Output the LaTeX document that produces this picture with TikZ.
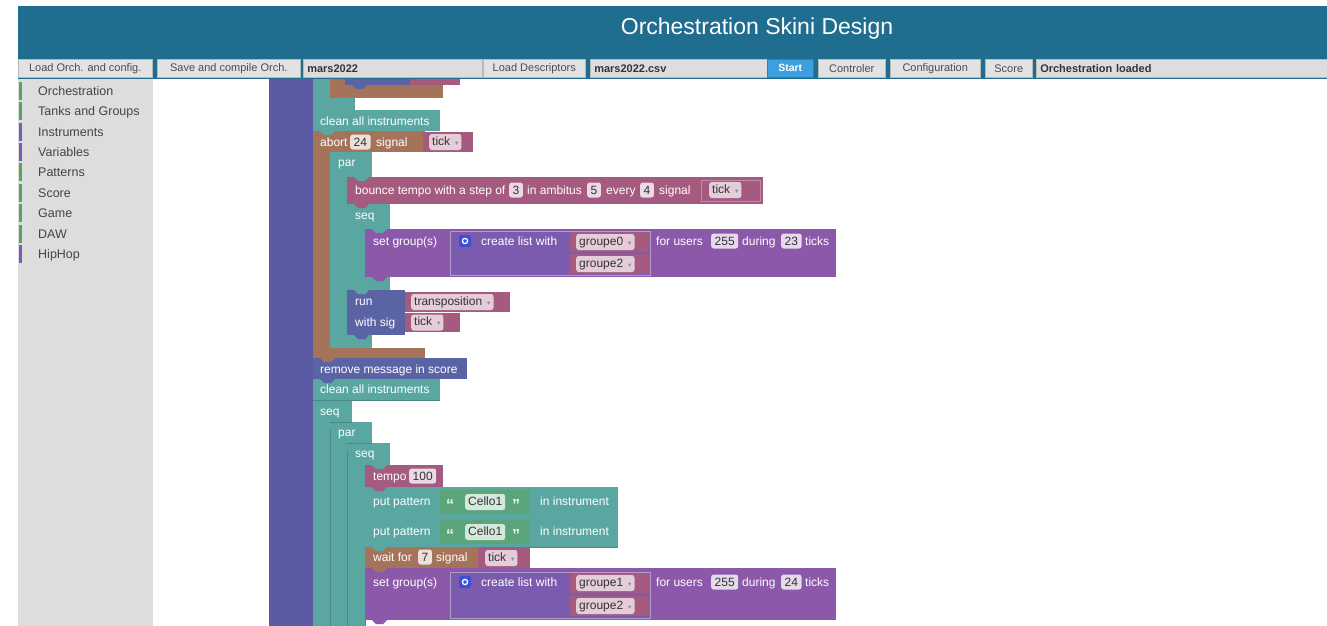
\documentclass[tikz,border=0pt]{standalone}
\usepackage{fontspec}
\setmainfont{Liberation Sans}
\newfontfamily\dvfont{DejaVu Sans}
\definecolor{hdr}{HTML}{1F6D8F}
\definecolor{btn}{HTML}{E2E2E2}
\definecolor{btnline}{HTML}{B8B8B8}
\definecolor{startc}{HTML}{3D9FE0}
\definecolor{side}{HTML}{DDDDDD}
\definecolor{sidetxt}{HTML}{444444}
\definecolor{catg}{HTML}{5BA55B}
\definecolor{catv}{HTML}{7B5BB5}
\definecolor{vio}{HTML}{5B5BA5}
\definecolor{tl}{HTML}{5AA6A0}
\definecolor{brn}{HTML}{A5735A}
\definecolor{pnk}{HTML}{A55A80}
\definecolor{setc}{HTML}{8C58AA}
\definecolor{lstc}{HTML}{7A5BAD}
\definecolor{runc}{HTML}{5A64A5}
\definecolor{txtc}{HTML}{5BA57A}
\definecolor{gear}{HTML}{3B4FD8}

\newcommand{\dd}{\hspace{5pt}{\dvfont\fontsize{6.5}{7}\selectfont\color{black!45}▾}}
% previous-statement tab of a block, hanging into the block below
\newcommand{\tab}[3]{\fill[#3] (#1,#2) -- (#1+4,#2+4) -- (#1+11,#2+4) -- (#1+15,#2) -- cycle;}

\begin{document}
\begin{tikzpicture}[x=1pt,y=-1pt,
  bt/.style={text=white, font=\fontsize{12}{14}\selectfont, inner sep=0pt, anchor=base west},
  numf/.style={fill=white, fill opacity=0.78, text opacity=1, text=black!80, rounded corners=2.5pt,
    inner xsep=3.5pt, inner ysep=0pt, minimum height=15pt, text height=9pt, text depth=1pt,
    font=\fontsize{12}{14}\selectfont, anchor=west},
  ddf/.style={fill=white, fill opacity=0.7, text opacity=1, text=black!80, rounded corners=2.5pt,
    inner xsep=3pt, inner ysep=0pt, minimum height=16pt, text height=9pt, text depth=2.5pt,
    font=\fontsize{12}{14}\selectfont, anchor=west},
  tbbtn/.style={fill=btn, draw=btnline, line width=0.5pt, inner sep=0pt, anchor=north west,
    text=black!70, font=\fontsize{11}{12}\selectfont},
  tbfield/.style={fill=side, draw=btnline, line width=0.5pt, inner sep=0pt, anchor=north west,
    text=black!80, font=\bfseries\fontsize{11}{12}\selectfont, align=left, text width=#1},
  stxt/.style={text=sidetxt, font=\fontsize{12.5}{14}\selectfont, inner sep=0pt, anchor=base west},
  quot/.style={bt, font=\bfseries\fontsize{16}{16}\selectfont, text=white!92!green},
  sep/.style={draw=tl!82!black, line width=0.6pt}
]
\useasboundingbox (0,0) rectangle (1327,626);
\fill[white] (0,0) rectangle (1327,626);

% ---------- header and toolbar ----------
\fill[hdr] (18,6) rectangle (1327,79);
\node[text=white, font=\fontsize{23}{26}\selectfont, inner sep=0pt] (title) at (757,29) {Orchestration Skini Design};

\node[tbbtn, minimum width=134pt, minimum height=18pt] (b1) at (18,59) {Load Orch. and config.};
\node[tbbtn, minimum width=143pt, minimum height=18pt] (b2) at (157,59) {Save and compile Orch.};
\node[tbfield=171pt, minimum height=18pt, inner xsep=4pt] (f1) at (303,59) {mars2022};
\node[tbbtn, minimum width=102pt, minimum height=18pt] (b3) at (483,59) {Load Descriptors};
\node[tbfield=169pt, minimum height=18pt, inner xsep=4pt] (f2) at (590,59) {mars2022.csv};
\node[tbbtn, fill=startc, draw=startc!80!black, text=white, font=\bfseries\fontsize{10.5}{12}\selectfont,
      minimum width=46pt, minimum height=18pt] (b4) at (767,59) {Start};
\node[tbbtn, minimum width=67pt, minimum height=18pt] (b5) at (818,59) {Controler};
\node[tbbtn, minimum width=90pt, minimum height=18pt] (b6) at (890,59) {Configuration};
\node[tbbtn, minimum width=47pt, minimum height=18pt] (b7) at (985,59) {Score};
\node[tbfield=283pt, minimum height=18pt, inner xsep=4pt] (f3) at (1036,59) {Orchestration loaded};

% ---------- category sidebar ----------
\fill[side] (18,79) rectangle (153,626);
\foreach \yy/\cc/\nm/\lbl in {91/catg/c1/Orchestration, 111/catg/c2/Tanks and Groups,
    132/catv/c3/Instruments, 152/catv/c4/Variables, 172/catg/c5/Patterns, 193/catg/c6/Score,
    213/catg/c7/Game, 234/catg/c8/DAW, 254/catv/c9/HipHop}{
  \fill[\cc] (19,\yy-9) rectangle (22,\yy+9);
  \node[stxt] (\nm) at (38,\yy+4.5) {\lbl};
}

% ---------- workspace: enclosing block ----------
\fill[vio] (269,79) rectangle (313,626);

% tail of the preceding statements
\fill[tl] (313,79) rectangle (330,110);
\fill[tl] (313,98) rectangle (355,110);
\fill[brn] (330,79) rectangle (345,98);
\fill[brn] (330,85) rectangle (443,98);
\fill[runc] (345,79) rectangle (410,85);
\fill[pnk] (410,79) rectangle (460,85);
\tab{352}{85}{runc}

% clean all instruments
\fill[tl] (313,110) rectangle (440,131);
\node[bt] (clean1) at (320,125) {clean all instruments};

% abort block (C-shaped)
\fill[brn] (313,131) rectangle (425,152);
\fill[brn] (313,152) rectangle (330,358);
\fill[brn] (313,348) rectangle (425,358);
\tab{320}{131}{tl}
\node[bt] (ab1) at (320,146) {abort};
\node[numf] (ab2) at (350,142) {24};
\node[bt] (ab3) at (376,146) {signal};
\fill[pnk] (423,132) rectangle (473,152);
\node[ddf] (ab4) at (429,142) {tick\dd};

% par block
\fill[tl] (330,152) rectangle (372,177);
\fill[tl] (330,152) rectangle (347,348);
\fill[tl] (330,335) rectangle (372,348);
\node[bt] (par1) at (338,166) {par};

% bounce tempo
\fill[pnk] (347,177) rectangle (763,204);
\tab{354}{177}{tl}
\node[bt] (bo1) at (355,194) {bounce tempo with a step of};
\node[numf] (bo2) at (509,190) {3};
\node[bt] (bo3) at (527,194) {in ambitus};
\node[numf] (bo4) at (587,190) {5};
\node[bt] (bo5) at (606,194) {every};
\node[numf] (bo6) at (640,190) {4};
\node[bt] (bo7) at (659,194) {signal};
\draw[pnk!70!white, line width=0.6pt] (701,180) rectangle (760,201);
\node[ddf] (bo8) at (709,190) {tick\dd};

% seq block with set group(s)
\fill[tl] (347,204) rectangle (390,229);
\fill[tl] (347,204) rectangle (365,290);
\fill[tl] (347,277) rectangle (390,290);
\tab{354}{204}{pnk}
\node[bt] (sq1) at (355,219) {seq};

\fill[setc] (365,229) rectangle (836,277);
\tab{372}{229}{tl}
\node[bt] (sg1) at (373,245) {set group(s)};
\fill[lstc] (450,231) rectangle (650,275);
\draw[lstc!60!white, line width=0.6pt] (450,231) rectangle (650,275);
\node[fill=gear, rounded corners=2pt, minimum size=12pt, inner sep=0pt] (sg2) at (465,241) {};
\draw[white, line width=1.3pt] (sg2.center) circle (2.6pt);
\node[bt] (sg3) at (481,245) {create list with};
\fill[pnk] (570,232) rectangle (650,252);
\node[ddf] (sg4) at (576,242) {groupe0\dd};
\fill[pnk] (570,254) rectangle (650,274);
\node[ddf] (sg5) at (576,264) {groupe2\dd};
\node[bt] (sg6) at (656,245) {for users};
\node[numf] (sg7) at (711,241) {255};
\node[bt] (sg8) at (742,245) {during};
\node[numf] (sg9) at (781,241) {23};
\node[bt] (sg10) at (805,245) {ticks};
\tab{372}{277}{setc}

% run with sig
\fill[runc] (347,290) rectangle (405,335);
\tab{354}{290}{tl}
\node[bt] (rn1) at (355,305) {run};
\node[bt] (rn2) at (355,326) {with sig};
\fill[pnk] (405,292) rectangle (510,312);
\node[ddf] (rn3) at (411,302) {transposition\dd};
\fill[pnk] (405,313) rectangle (460,332);
\node[ddf] (rn4) at (411,322.5) {tick\dd};
\tab{354}{335}{runc}

% remove message / clean
\fill[runc] (313,358) rectangle (467,379);
\tab{320}{358}{brn}
\node[bt] (rm1) at (320,373) {remove message in score};
\fill[tl] (313,379) rectangle (440,400);
\tab{320}{379}{runc}
\node[bt] (clean2) at (320,393) {clean all instruments};

% nested seq / par / seq
\fill[tl] (313,400) rectangle (352,422);
\fill[tl] (313,400) rectangle (330,626);
\node[bt] (sq2) at (320,415) {seq};
\fill[tl] (330,422) rectangle (372,443);
\fill[tl] (330,422) rectangle (347,626);
\node[bt] (par2) at (338,436) {par};
\fill[tl] (347,443) rectangle (390,465);
\fill[tl] (347,443) rectangle (365,626);
\node[bt] (sq3) at (355,457) {seq};
\draw[sep] (330,430) -- (330,626);
\draw[sep] (347,451) -- (347,626);
\draw[sep] (365,473) -- (365,626);
\draw[sep] (313,400) -- (440,400);
\draw[sep] (330,422) -- (352,422);
\draw[sep] (347,443) -- (372,443);

% tempo
\fill[pnk] (365,465) rectangle (443,487);
\tab{372}{465}{tl}
\node[bt] (tp1) at (373,480) {tempo};
\node[numf] (tp2) at (409,476) {100};

% put pattern x2
\foreach \yt/\nm in {487/pp, 517/pq}{
  \fill[tl] (365,\yt) rectangle (618,\yt+30);
  \draw[tl!82!black, line width=0.5pt] (365,\yt+30) -- (618,\yt+30);
  \node[bt] (\nm1) at (373,\yt+18) {put pattern};
  \fill[txtc] (440,\yt+3) rectangle (530,\yt+27);
  \node[quot] (\nm2) at (446,\yt+23) {“};
  \node[ddf, fill opacity=0.75] (\nm3) at (465,\yt+15) {Cello1};
  \node[quot] (\nm4) at (512,\yt+23) {”};
  \node[bt] (\nm5) at (540,\yt+18) {in instrument};
}
\tab{372}{487}{pnk}

% wait for
\fill[brn] (365,547) rectangle (478,568);
\tab{372}{547}{tl}
\node[bt] (wt1) at (373,561) {wait for};
\node[numf] (wt2) at (418,557) {7};
\node[bt] (wt3) at (436,561) {signal};
\fill[pnk] (478,548) rectangle (530,568);
\node[ddf] (wt4) at (485,558) {tick\dd};

% set group(s), second
\fill[setc] (365,568) rectangle (836,620);
\tab{372}{568}{brn}
\node[bt] (sh1) at (373,586) {set group(s)};
\fill[lstc] (450,572) rectangle (650,618);
\draw[lstc!60!white, line width=0.6pt] (450,572) rectangle (650,618);
\node[fill=gear, rounded corners=2pt, minimum size=12pt, inner sep=0pt] (sh2) at (465,582) {};
\draw[white, line width=1.3pt] (sh2.center) circle (2.6pt);
\node[bt] (sh3) at (481,586) {create list with};
\fill[pnk] (570,573) rectangle (650,593);
\node[ddf] (sh4) at (576,583) {groupe1\dd};
\fill[pnk] (570,596) rectangle (650,616);
\node[ddf] (sh5) at (576,606) {groupe2\dd};
\node[bt] (sh6) at (656,586) {for users};
\node[numf] (sh7) at (711,582) {255};
\node[bt] (sh8) at (742,586) {during};
\node[numf] (sh9) at (781,582) {24};
\node[bt] (sh10) at (805,586) {ticks};
\tab{372}{620}{setc}
\end{tikzpicture}
\end{document}
